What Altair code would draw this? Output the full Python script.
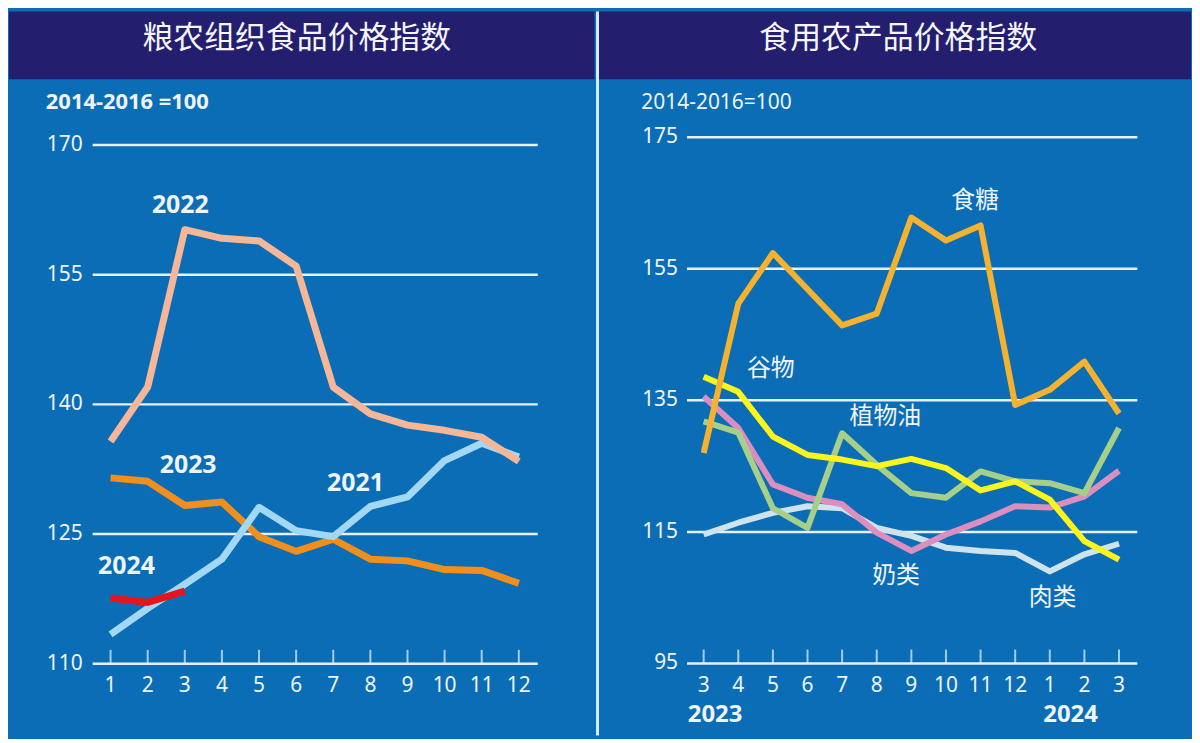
import altair as alt
import pandas as pd

# ---------------- data ----------------
months_left = [1, 2, 3, 4, 5, 6, 7, 8, 9, 10, 11, 12]
ffpi_2021 = [113.4, 116.4, 119.2, 122.1, 128.1, 125.4, 124.7, 128.2, 129.3, 133.5, 135.5, 133.9]
ffpi_2022 = [135.7, 142.0, 160.2, 159.2, 158.9, 156.0, 142.0, 138.9, 137.6, 137.0, 136.2, 133.4]
ffpi_2023 = [131.5, 131.1, 128.3, 128.7, 124.7, 123.0, 124.4, 122.1, 121.9, 120.9, 120.8, 119.3]
ffpi_2024 = [117.6, 117.1, 118.4]
left_ticks = [110, 125, 140, 155, 170]

month_labels_right = ["3", "4", "5", "6", "7", "8", "9", "10", "11", "12", "1", "2", "3"]
sugar = [127.0, 149.7, 157.4, 151.9, 146.4, 148.2, 162.8, 159.3, 161.6, 134.3, 136.6, 140.9, 133.0]
cereals = [138.6, 136.3, 129.5, 126.7, 126.0, 125.0, 126.1, 124.7, 121.3, 122.7, 119.9, 113.6, 110.8]
vegoil = [131.8, 130.1, 118.6, 115.6, 130.0, 125.2, 120.9, 120.2, 124.2, 122.7, 122.4, 120.9, 130.8]
dairy = [135.6, 130.8, 122.2, 120.2, 119.2, 114.9, 112.1, 114.6, 116.6, 118.9, 118.7, 120.4, 124.3]
meat = [114.6, 116.4, 117.9, 118.9, 118.6, 115.6, 114.4, 112.6, 112.1, 111.8, 109.0, 111.6, 113.2]
right_ticks = [95, 115, 135, 155, 175]

title_left = "粮农组织食品价格指数"
title_right = "食用农产品价格指数"
base_left = "2014-2016 =100"
base_right = "2014-2016=100"

# ---------------- style ----------------
BODY = "#0b6db5"
HEADER = "#231e6e"
GRID = "#e6f2fb"
TXT = "#eef4fa"
NUM_FONT = "Noto Sans"
CJK_FONT = "Noto Sans CJK SC"

LW, RW, H = 588, 596, 727
HEAD_H = 68

xs_left = alt.Scale(domain=[-1.737, 14.04], nice=False, zero=False)
ys_left = alt.Scale(domain=[101.71, 185.43], nice=False, zero=False)
xs_right = alt.Scale(domain=[-3.067, 14.08], nice=False, zero=False)
ys_right = alt.Scale(domain=[84.05, 194.12], nice=False, zero=False)

one = pd.DataFrame({"k": [0]})


def header(width, title, cx):
    rect = alt.Chart(one).mark_rect(color=HEADER).encode(
        x=alt.value(0), x2=alt.value(width), y=alt.value(0), y2=alt.value(HEAD_H)
    )
    txt = alt.Chart(one).mark_text(
        font=CJK_FONT, fontSize=31, color="#f6f6fa", align="center", baseline="middle",
        text=title,
    ).encode(x=alt.value(cx), y=alt.value(28))
    return [rect, txt]


def label(text, x, y, xs, ys, size, bold=False, font=NUM_FONT, align="center"):
    df = pd.DataFrame({"x": [x], "y": [y], "t": [text]})
    return alt.Chart(df).mark_text(
        font=font, fontSize=size, fontWeight="bold" if bold else "normal",
        color=TXT, align=align, baseline="middle"
    ).encode(
        x=alt.X("x:Q", scale=xs, axis=None),
        y=alt.Y("y:Q", scale=ys, axis=None),
        text="t:N",
    )


def series_line(xvals, yvals, color, xs, ys, width):
    df = pd.DataFrame({"x": xvals, "y": yvals})
    return alt.Chart(df).mark_line(color=color, strokeWidth=width, strokeJoin="round").encode(
        x=alt.X("x:Q", scale=xs, axis=None),
        y=alt.Y("y:Q", scale=ys, axis=None),
    )


def grid(ticks, x0, x1, xs, ys):
    df = pd.DataFrame({"v": ticks, "a": [x0] * len(ticks), "b": [x1] * len(ticks)})
    return alt.Chart(df).mark_rule(color=GRID, strokeWidth=2.5).encode(
        y=alt.Y("v:Q", scale=ys, axis=None),
        x=alt.X("a:Q", scale=xs, axis=None),
        x2="b:Q",
    )


def ylabels(ticks, xpos, xs, ys):
    df = pd.DataFrame({"v": ticks, "t": [str(t) for t in ticks], "a": [xpos] * len(ticks)})
    return alt.Chart(df).mark_text(
        font=NUM_FONT, fontSize=21, color=TXT, align="right", baseline="middle"
    ).encode(
        y=alt.Y("v:Q", scale=ys, axis=None),
        x=alt.X("a:Q", scale=xs, axis=None),
        text="t:N",
    )


def xticks(xvals, base, xs, ys):
    df = pd.DataFrame({"x": xvals, "b": [base] * len(xvals)})
    return alt.Chart(df).mark_tick(
        orient="vertical", size=14, thickness=2, color=GRID, yOffset=-7
    ).encode(
        x=alt.X("x:Q", scale=xs, axis=None),
        y=alt.Y("b:Q", scale=ys, axis=None),
    )


def xlabels(xvals, texts, ypos, xs, ys):
    df = pd.DataFrame({"x": xvals, "t": texts, "b": [ypos] * len(xvals)})
    return alt.Chart(df).mark_text(
        font=NUM_FONT, fontSize=21, color=TXT, align="center", baseline="middle"
    ).encode(
        x=alt.X("x:Q", scale=xs, axis=None),
        y=alt.Y("b:Q", scale=ys, axis=None),
        text="t:N",
    )


# ---------------- left panel ----------------
left_layers = header(LW, title_left, 289) + [
    label(base_left, -0.744, 174.95, xs_left, ys_left, 22, bold=True, align="left"),
    grid(left_ticks, 0.517, 12.51, xs_left, ys_left),
    ylabels(left_ticks, 0.25, xs_left, ys_left),
    xticks(months_left, 110, xs_left, ys_left),
    xlabels(months_left, [str(m) for m in months_left], 107.47, xs_left, ys_left),
    series_line(months_left, ffpi_2023, "#f28e1c", xs_left, ys_left, 7),
    series_line(months_left, ffpi_2021, "#a3d8f5", xs_left, ys_left, 7),
    series_line(months_left, ffpi_2022, "#f5b797", xs_left, ys_left, 7),
    series_line(months_left[:3], ffpi_2024, "#e8141b", xs_left, ys_left, 7),
    label("2022", 2.88, 163.1, xs_left, ys_left, 25, bold=True),
    label("2023", 3.09, 133.0, xs_left, ys_left, 25, bold=True),
    label("2021", 7.60, 130.85, xs_left, ys_left, 25, bold=True),
    label("2024", 1.43, 121.3, xs_left, ys_left, 25, bold=True),
]
left = alt.layer(*left_layers).properties(width=LW, height=H)

# ---------------- right panel ----------------
ridx = list(range(len(month_labels_right)))
divider = alt.Chart(one).mark_rule(color="#d4eaf8", strokeWidth=3).encode(
    x=alt.value(0), y=alt.value(0), y2=alt.value(H)
)
right_layers = header(RW, title_right, 302) + [
    divider,
    label(base_right, -1.80, 180.2, xs_right, ys_right, 21, align="left"),
    grid(right_ticks, -0.48, 12.53, xs_right, ys_right),
    ylabels(right_ticks, -0.74, xs_right, ys_right),
    xticks(ridx, 95, xs_right, ys_right),
    xlabels(ridx, month_labels_right, 91.6, xs_right, ys_right),
    label("2023", 0.33, 87.1, xs_right, ys_right, 24, bold=True),
    label("2024", 10.6, 87.1, xs_right, ys_right, 24, bold=True),
    series_line(ridx, meat, "#cfe3ee", xs_right, ys_right, 6),
    series_line(ridx, dairy, "#dc8fbf", xs_right, ys_right, 6),
    series_line(ridx, vegoil, "#a6cf8a", xs_right, ys_right, 6),
    series_line(ridx, cereals, "#fbf51c", xs_right, ys_right, 6),
    series_line(ridx, sugar, "#f5b22e", xs_right, ys_right, 6),
    label("食糖", 7.84, 165.35, xs_right, ys_right, 24, font=CJK_FONT),
    label("谷物", 1.94, 139.77, xs_right, ys_right, 24, font=CJK_FONT),
    label("植物油", 5.25, 132.5, xs_right, ys_right, 24, font=CJK_FONT),
    label("奶类", 5.56, 108.3, xs_right, ys_right, 24, font=CJK_FONT),
    label("肉类", 10.08, 104.95, xs_right, ys_right, 24, font=CJK_FONT),
]
right = alt.layer(*right_layers).properties(width=RW, height=H)

chart = (
    alt.hconcat(left, right, spacing=0)
    .properties(padding=0, background=BODY)
    .configure_view(stroke="transparent")
)

chart.save("out.html", embed_options={"renderer": "svg", "actions": False})
